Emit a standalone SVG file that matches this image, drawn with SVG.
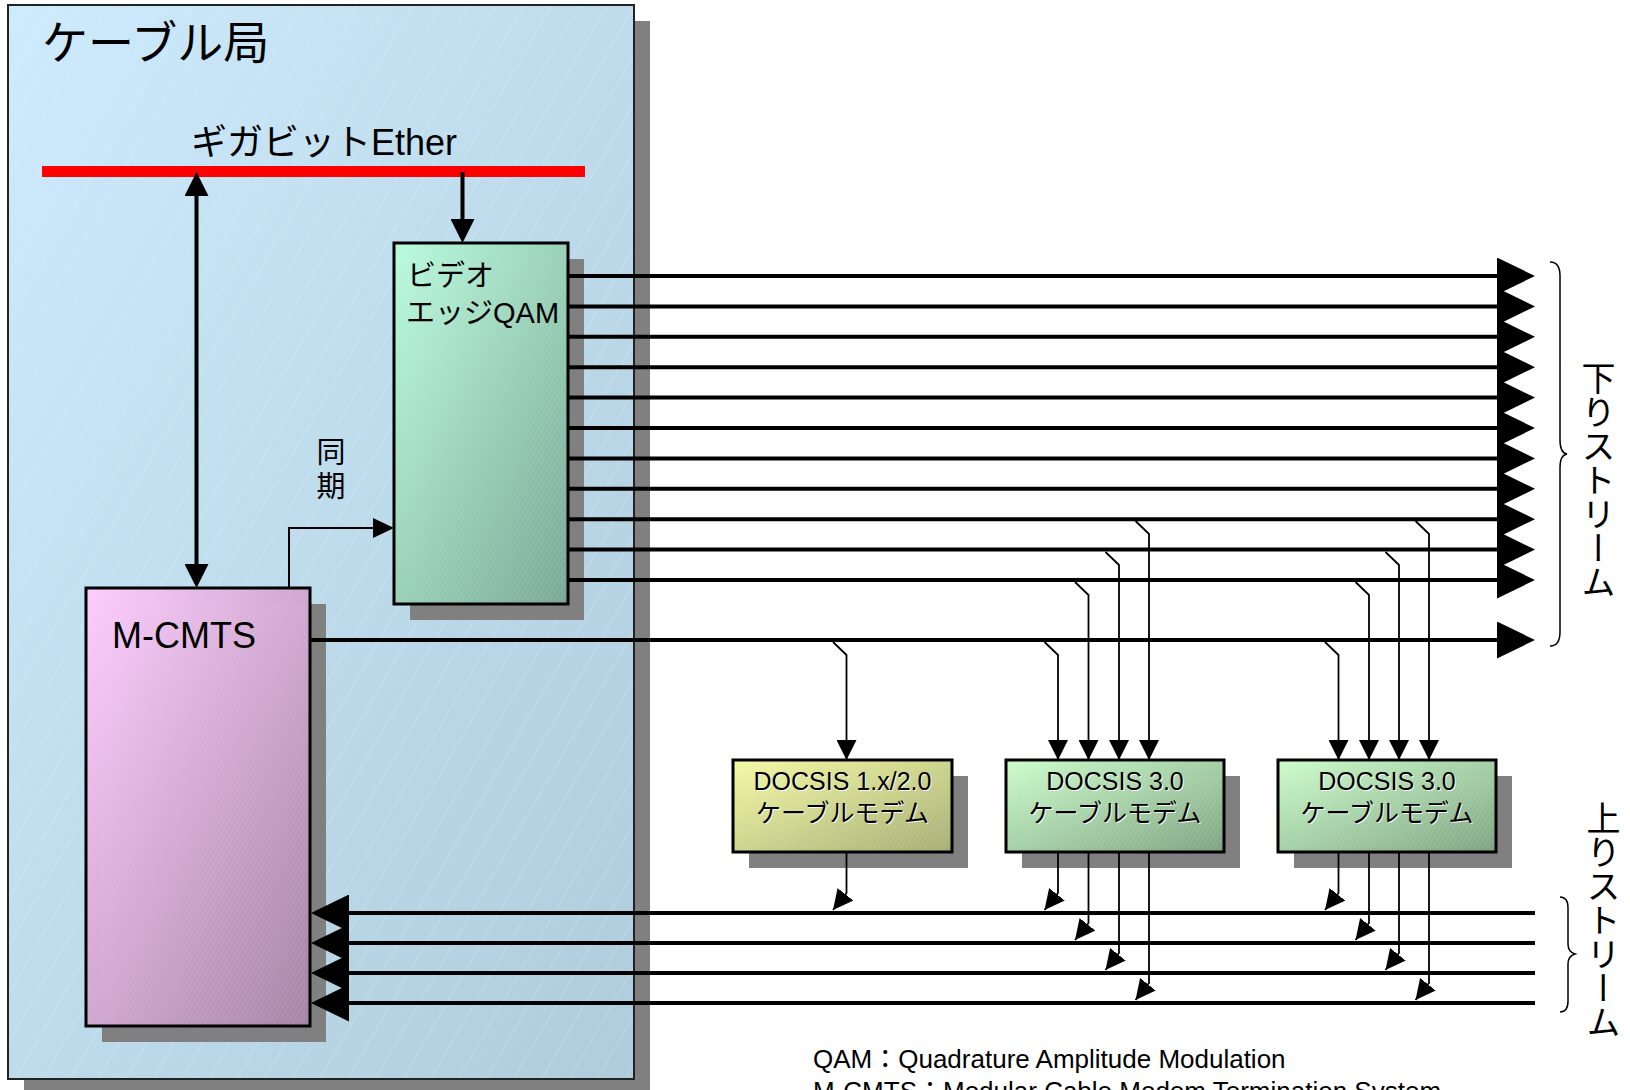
<svg xmlns="http://www.w3.org/2000/svg" width="1630" height="1090" viewBox="0 0 1630 1090">
<style>
.jp{font-family:"Liberation Sans","Noto Sans CJK JP",sans-serif;fill:#000}
.shadow{fill:#808080}
.box{stroke:#000;stroke-width:3}
.ds{stroke:#000;stroke-width:4;fill:none;marker-end:url(#ahBig)}
.us{stroke:#000;stroke-width:4;fill:none;marker-end:url(#ahBig)}
.thin{stroke:#000;stroke-width:1.8;fill:none;marker-end:url(#ahSmall)}
.brace{stroke:#000;stroke-width:1.5;fill:none}
.vert{writing-mode:vertical-rl;font-size:34px}
.mtxt{font-size:25px;text-anchor:middle}
.halo{fill:#fff;fill-opacity:0.85}
</style>
<defs>
<linearGradient id="gOuter" x1="0" y1="0" x2="1" y2="1"><stop offset="0" stop-color="#cdebfc"/><stop offset="1" stop-color="#afccdc"/></linearGradient>
<linearGradient id="gQam" x1="0" y1="0" x2="1" y2="1"><stop offset="0" stop-color="#bafbde"/><stop offset="1" stop-color="#7aa894"/></linearGradient>
<linearGradient id="gCmts" x1="0" y1="0" x2="1" y2="1"><stop offset="0" stop-color="#fdcdfd"/><stop offset="1" stop-color="#a584a6"/></linearGradient>
<linearGradient id="gM1" x1="0" y1="0" x2="1" y2="1"><stop offset="0" stop-color="#f4faa6"/><stop offset="1" stop-color="#a6ae76"/></linearGradient>
<linearGradient id="gM2" x1="0" y1="0" x2="1" y2="1"><stop offset="0" stop-color="#cdfdcd"/><stop offset="1" stop-color="#80a482"/></linearGradient>
<pattern id="hatch" patternUnits="userSpaceOnUse" width="24" height="24" patternTransform="rotate(30)"><line x1="0" y1="0" x2="0" y2="24" stroke="#ffffff" stroke-opacity="0.38" stroke-width="1"/></pattern>
<pattern id="fine" patternUnits="userSpaceOnUse" width="4" height="4" patternTransform="rotate(30)"><line x1="0" y1="0" x2="0" y2="4" stroke="#ffffff" stroke-opacity="0.22" stroke-width="1"/></pattern>
<marker id="ahBig" markerUnits="userSpaceOnUse" viewBox="0 0 38 37" refX="0" refY="18.5" markerWidth="38" markerHeight="37" orient="auto"><path d="M0,0 L38,18.5 L0,37 z" fill="#000"/></marker>
<marker id="ahMid" markerUnits="userSpaceOnUse" viewBox="0 0 24 24" refX="0" refY="12" markerWidth="24" markerHeight="24" orient="auto-start-reverse"><path d="M0,0 L24,12 L0,24 z" fill="#000"/></marker>
<marker id="ahSync" markerUnits="userSpaceOnUse" viewBox="0 0 21 20" refX="0" refY="10" markerWidth="21" markerHeight="20" orient="auto"><path d="M0,0 L21,10 L0,20 z" fill="#000"/></marker>
<marker id="ahSmall" markerUnits="userSpaceOnUse" viewBox="0 0 20 20" refX="20" refY="10" markerWidth="20" markerHeight="20" orient="auto"><path d="M0,0 L20,10 L0,20 z" fill="#000"/></marker>
</defs>

<g id="cable-office">
<rect class="shadow" x="24" y="21" width="626" height="1074"/>
<rect x="8" y="5" width="626" height="1074" fill="url(#gOuter)" stroke="#222" stroke-width="2"/>
<rect x="9" y="6" width="624" height="1072" fill="url(#hatch)"/>
<text class="jp" x="42" y="59" font-size="46">ケーブル局</text>
</g>

<g id="ether-bus">
<rect x="42" y="166" width="543" height="11" fill="#ff0000"/>
<text class="jp" x="191" y="155" font-size="36">ギガビットEther</text>
</g>

<g id="video-edge-qam">
<rect class="shadow" x="410" y="259" width="174" height="361"/>
<rect class="box" x="394" y="243" width="174" height="361" fill="url(#gQam)"/>
<rect x="404" y="259" width="160" height="341" fill="url(#fine)"/>
<text class="jp" x="407" y="286" font-size="29">ビデオ</text>
<text class="jp" x="406" y="323" font-size="29">エッジQAM</text>
</g>

<g id="m-cmts">
<rect class="shadow" x="102" y="604" width="224" height="438"/>
<rect class="box" x="86" y="588" width="224" height="438" fill="url(#gCmts)"/>
<rect x="100" y="604" width="206" height="418" fill="url(#fine)"/>
<text class="jp" x="112" y="648" font-size="36">M-CMTS</text>
</g>

<g id="sync-label">
<text class="jp" x="331" y="463" font-size="29" text-anchor="middle">同</text>
<text class="jp" x="331" y="497" font-size="29" text-anchor="middle">期</text>
</g>

<g id="modem-1">
<rect class="shadow" x="749" y="776" width="219" height="92"/>
<rect class="box" x="733" y="760" width="219" height="92" fill="url(#gM1)"/>
<rect x="749" y="776" width="199" height="72" fill="url(#fine)"/>
<text class="jp mtxt halo" x="843.5" y="791">DOCSIS 1.x/2.0</text>
<text class="jp mtxt" x="842.5" y="790">DOCSIS 1.x/2.0</text>
<text class="jp mtxt halo" x="843.5" y="823">ケーブルモデム</text>
<text class="jp mtxt" x="842.5" y="822">ケーブルモデム</text>
</g>

<g id="modem-2">
<rect class="shadow" x="1022" y="776" width="218" height="92"/>
<rect class="box" x="1006" y="760" width="218" height="92" fill="url(#gM2)"/>
<rect x="1022" y="776" width="198" height="72" fill="url(#fine)"/>
<text class="jp mtxt halo" x="1116" y="791">DOCSIS 3.0</text>
<text class="jp mtxt" x="1115" y="790">DOCSIS 3.0</text>
<text class="jp mtxt halo" x="1116" y="823">ケーブルモデム</text>
<text class="jp mtxt" x="1115" y="822">ケーブルモデム</text>
</g>

<g id="modem-3">
<rect class="shadow" x="1294" y="776" width="218" height="92"/>
<rect class="box" x="1278" y="760" width="218" height="92" fill="url(#gM2)"/>
<rect x="1294" y="776" width="198" height="72" fill="url(#fine)"/>
<text class="jp mtxt halo" x="1388" y="791">DOCSIS 3.0</text>
<text class="jp mtxt" x="1387" y="790">DOCSIS 3.0</text>
<text class="jp mtxt halo" x="1388" y="823">ケーブルモデム</text>
<text class="jp mtxt" x="1387" y="822">ケーブルモデム</text>
</g>

<g id="stream-labels">
<path class="brace" d="M1550,262 Q1560,262 1560,276 L1560,440 Q1560,453 1567,454 Q1560,455 1560,468 L1560,632 Q1560,646 1550,646"/>
<text class="jp vert" x="1596" y="361">下りストリーム</text>
<path class="brace" d="M1560,897 Q1568,897 1568,908 L1568,944 Q1568,952 1575,954 Q1568,956 1568,964 L1568,1001 Q1568,1012 1560,1012"/>
<text class="jp vert" x="1601" y="801">上りストリーム</text>
</g>

<g id="footnote">
<text class="jp" x="813" y="1068" font-size="26">QAM：Quadrature Amplitude Modulation</text>
<text class="jp" x="813" y="1100" font-size="26">M-CMTS：Modular Cable Modem Termination System</text>
</g>

<g id="connectors">
<path d="M196.5,196 V564" stroke="#000" stroke-width="4" fill="none" marker-start="url(#ahMid)" marker-end="url(#ahMid)"/>
<path d="M462.5,172 V219" stroke="#000" stroke-width="4" fill="none" marker-end="url(#ahMid)"/>
<path d="M289,588 V528 H373" stroke="#000" stroke-width="2" fill="none" marker-end="url(#ahSync)"/>

<path class="ds" d="M568,276 H1497"/>
<path class="ds" d="M568,306.4 H1497"/>
<path class="ds" d="M568,336.8 H1497"/>
<path class="ds" d="M568,367.2 H1497"/>
<path class="ds" d="M568,397.6 H1497"/>
<path class="ds" d="M568,428 H1497"/>
<path class="ds" d="M568,458.4 H1497"/>
<path class="ds" d="M568,488.8 H1497"/>
<path class="ds" d="M568,519.2 H1497"/>
<path class="ds" d="M568,549.6 H1497"/>
<path class="ds" d="M568,580 H1497"/>
<path class="ds" d="M310,640 H1497"/>

<path class="us" d="M1535,913 H349"/>
<path class="us" d="M1535,943 H349"/>
<path class="us" d="M1535,973 H349"/>
<path class="us" d="M1535,1003 H349"/>

<path class="thin" d="M833,642 L846.5,655 V760"/>
<path class="thin" d="M1044.5,642 L1058,655 V760"/>
<path class="thin" d="M1075,582 L1088.5,595 V760"/>
<path class="thin" d="M1105.5,552 L1119,565 V760"/>
<path class="thin" d="M1135.5,521 L1149,534 V760"/>
<path class="thin" d="M1325,642 L1338.5,655 V760"/>
<path class="thin" d="M1355.5,582 L1369,595 V760"/>
<path class="thin" d="M1385.5,552 L1399,565 V760"/>
<path class="thin" d="M1415.5,521 L1429,534 V760"/>

<path class="thin" d="M846.5,852 V893 L833,910"/>
<path class="thin" d="M1058,852 V893 L1044.5,910"/>
<path class="thin" d="M1088.5,852 V923 L1075,940"/>
<path class="thin" d="M1119,852 V953 L1105.5,970"/>
<path class="thin" d="M1149,852 V983 L1135.5,1000"/>
<path class="thin" d="M1338.5,852 V893 L1325,910"/>
<path class="thin" d="M1369,852 V923 L1355.5,940"/>
<path class="thin" d="M1399,852 V953 L1385.5,970"/>
<path class="thin" d="M1429,852 V983 L1415.5,1000"/>
</g>
</svg>
